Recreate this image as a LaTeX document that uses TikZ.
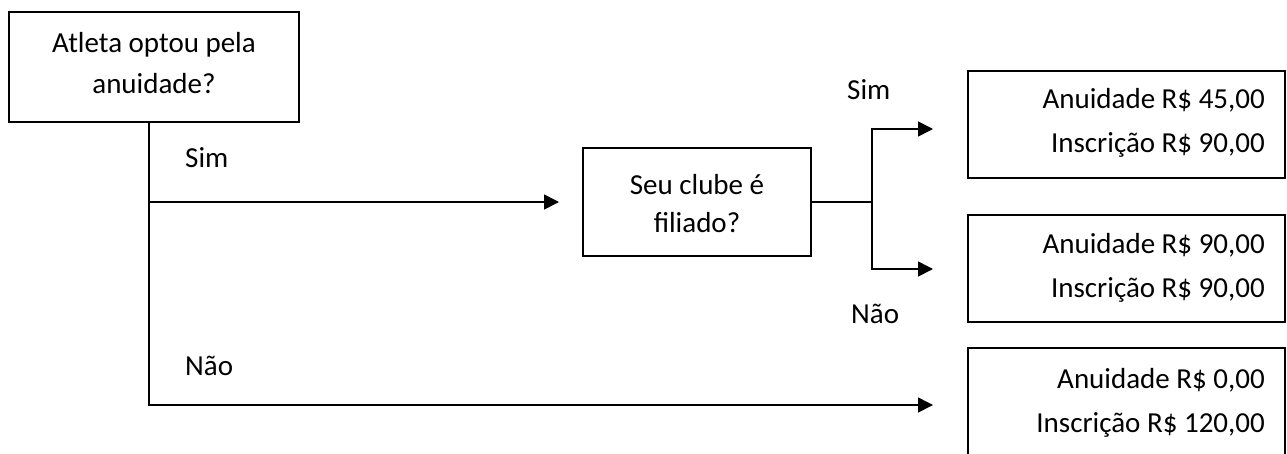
\documentclass[tikz,border=0pt]{standalone}
\usepackage{fontspec}
\setmainfont{Carlito}
\usetikzlibrary{arrows.meta}
\begin{document}
\begin{tikzpicture}[x=1pt,y=-1pt,
  box/.style={draw,line width=2.2pt,inner sep=0pt,outer sep=0pt,anchor=north west},
  conn/.style={line width=1.6pt},
  arr/.style={conn,-{Triangle[length=15pt,width=15pt]}},
  txt/.style={font=\fontsize{29}{35}\selectfont,inner sep=0pt},
]
\useasboundingbox (0,0) rectangle (1287,453);
\clip (0,0) rectangle (1287,453);
% boxes
\node[box,minimum width=290pt,minimum height=110pt] (q1) at (9,12) {};
\node[box,minimum width=228pt,minimum height=108pt] (q2) at (583,148) {};
\node[box,minimum width=317pt,minimum height=107pt] (rA) at (968,71) {};
\node[box,minimum width=317pt,minimum height=107pt] (rB) at (968,215) {};
\node[box,minimum width=317pt,minimum height=107pt] (rC) at (968,348) {};
% box texts
\node[txt,anchor=base] (t1a) at (154,52) {Atleta optou pela};
\node[txt,anchor=base] (t1b) at (154,93) {anuidade?};
\node[txt,anchor=base] (t2a) at (697,194) {Seu clube é};
\node[txt,anchor=base] (t2b) at (697,232) {filiado?};
\node[txt,anchor=base east] (tAa) at (1265,108) {Anuidade R\$ 45,00};
\node[txt,anchor=base east] (tAb) at (1265,152) {Inscrição R\$ 90,00};
\node[txt,anchor=base east] (tBa) at (1265,253) {Anuidade R\$ 90,00};
\node[txt,anchor=base east] (tBb) at (1265,297) {Inscrição R\$ 90,00};
\node[txt,anchor=base east] (tCa) at (1265,388) {Anuidade R\$ 0,00};
\node[txt,anchor=base east] (tCb) at (1265,432) {Inscrição R\$ 120,00};
% branch labels
\node[txt,anchor=base west] (l1) at (185,167) {Sim};
\node[txt,anchor=base west] (l2) at (185,375) {Não};
\node[txt,anchor=base west] (l3) at (847,99) {Sim};
\node[txt,anchor=base west] (l4) at (851,323) {Não};
% junction coordinates
\coordinate (split1) at (149,202);
\coordinate (split2) at (872,202);
\coordinate (endA) at (933,129);
\coordinate (endB) at (933,269);
\coordinate (endC) at (933,405);
% connectors
\draw[arr] ([xshift=140pt]q1.south west) |- (endC);
\draw[arr] (split1) -- ([xshift=-24pt]q2.west);
\draw[arr] (q2.east) -- (split2) |- (endA);
\draw[arr] (split2) |- (endB);
\end{tikzpicture}
\end{document}
